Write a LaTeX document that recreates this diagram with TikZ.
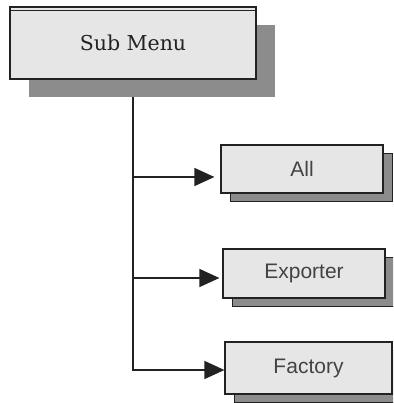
\documentclass[tikz,border=0pt]{standalone}
\usepackage{fontspec}
\setmainfont{Liberation Sans}
\newfontfamily\menufont{DejaVu Serif}
\usepackage{tikz}
\usetikzlibrary{positioning,arrows.meta,calc,shadows}

\definecolor{boxfill}{HTML}{E6E6E6}
\definecolor{shadefill}{HTML}{8C8C8C}
\definecolor{ink}{HTML}{222222}

\tikzset{
  menubox/.style={draw=ink, line width=1.6pt, fill=boxfill, minimum width=246pt, minimum height=72pt,
    font=\menufont\fontsize{20.5}{24}\selectfont, text=ink,
    general shadow={fill=shadefill, shadow xshift=19pt, shadow yshift=-18pt}},
  itembox/.style={draw=ink, line width=1.2pt, fill=boxfill, minimum width=162pt, minimum height=48pt,
    font=\fontsize{21}{24}\selectfont, text=ink!85,
    general shadow={fill=shadefill, draw=ink, line width=1pt, shadow xshift=9pt, shadow yshift=-9pt}},
  flow/.style={draw=ink, line width=1.4pt, -{Triangle[length=20pt,width=18pt]}}
}

\begin{document}
\begin{tikzpicture}[x=1pt,y=1pt]

  \clip (0,0) rectangle (393,403);
  \fill[white] (0,0) rectangle (393,403);

  \node[menubox] (sub) at (133,360) {Sub Menu};
  \draw[ink, line width=1pt] ([yshift=-4.5pt]sub.north west) -- ([yshift=-4.5pt]sub.north east);

  \node[itembox] (all) at (302,234) {All};
  \node[itembox, minimum height=49pt] (exporter) at (304,129.5) {Exporter};
  \node[itembox, minimum width=167pt, minimum height=52pt] (factory) at (308.5,35) {Factory};

  \coordinate (trunk) at (133,306);
  \coordinate (a1) at ([xshift=-6pt,yshift=-8pt]all.west);
  \coordinate (a2) at ([xshift=-3pt,yshift=-4.5pt]exporter.west);
  \coordinate (a3) at ([yshift=-2pt]factory.west);

  \draw[flow] (trunk) |- (a3);
  \draw[flow] (trunk |- a1) -- (a1);
  \draw[flow] (trunk |- a2) -- (a2);

\end{tikzpicture}
\end{document}
